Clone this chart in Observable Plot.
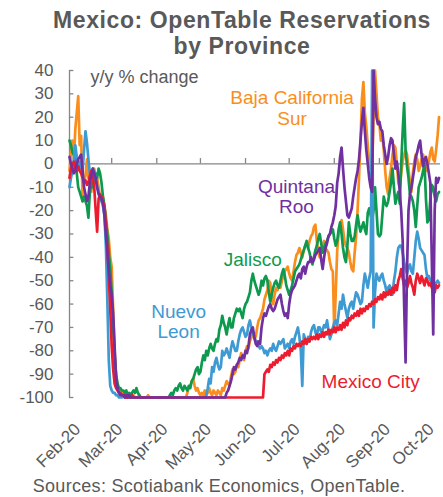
<!DOCTYPE html>
<html>
<head>
<meta charset="utf-8">
<script src="https://cdn.jsdelivr.net/npm/d3@7"></script>
<script src="https://cdn.jsdelivr.net/npm/@observablehq/plot@0.6"></script>
<style>
  html, body { margin: 0; padding: 0; background: #fff; }
  body { width: 443px; height: 497px; overflow: hidden; font-family: "Liberation Sans", Arial, sans-serif; }
  #title { height: 60px; box-sizing: border-box; padding-top: 7px; padding-left: 41px; text-align: center;
           font-weight: bold; font-size: 23px; line-height: 26px; color: #595959; letter-spacing: 0.6px; }
  #chart { height: 415px; }
  #caption { height: 22px; font-size: 18px; line-height: 22px; color: #595959; text-align: center; padding-right: 5px; letter-spacing: 0.3px; }
</style>
</head>
<body>
<div id="title">Mexico: OpenTable Reservations<br>by Province</div>
<div id="chart"></div>
<div id="caption">Sources: Scotiabank Economics, OpenTable.</div>
<script>
// Daily y/y % change, first value = 18 Feb 2020
const firstDay = "2020-02-18";
const lastAxisDay = "2020-10-30";

const bajaCaliforniaSur = [
  -3,5,10,2,15,22,29,8,12,-16,
  -8,-5,2,-6,-3,-12,-5,-2,-8,-6,
  -10,-14,-16,-14,-18,-22,-28,-32,-40,-44,
  -62,-80,-90,-95,-97,-97,-98,-98,-99,-98,
  -99,-100,-99,-100,-99,-100,-100,-100,-99,-100,
  -100,-100,-100,-100,-99,-100,-100,-100,-100,-100,
  -100,-100,-100,-100,-100,-100,-100,-100,-100,-100,
  -100,-100,-100,-100,-100,-100,-100,-100,-100,-100,
  -100,-98,-96,-95,-93,-92,-95,-97,-96,-98,
  -99,-98,-99,-97,-99,-98,-96,-98,-99,-97,
  -98,-99,-97,-98,-99,-96,-97,-95,-93,-94,
  -95,-91,-88,-90,-89,-86,-87,-84,-81,-82,
  -84,-80,-78,-79,-76,-74,-72,-75,-74,-70,
  -67,-66,-64,-62,-58,-56,-54,-50,-51,-58,
  -60,-56,-53,-54,-52,-53,-50,-48,-46,-45,
  -44,-47,-49,-50,-46,-42,-39,-38,-36,-38,
  -40,-37,-35,-34,-36,-33,-31,-30,-27,-26,
  -33,-38,-40,-37,-35,-33,-36,-37,-38,-42,
  -45,-46,-72,-55,-37,-30,-29,-24,-28,-33,
  -35,-36,-38,-42,-45,-46,-38,-31,-20,-6,
  10,28,35,22,16,8,1,-2,-3,20,
  40,30,20,17,10,12,6,-3,-10,-13,
  -6,-2,4,8,7,0,-8,-10,-4,1,
  4,6,4,-2,-8,-12,-4,1,4,2,
  -3,-1,2,4,1,-3,-2,1,5,7,
  2,1,6,12,20
];

const jalisco = [
  10,8,5,4,2,-4,-10,-12,-14,-16,
  -14,-16,-18,-23,-12,-8,-10,-5,-4,-6,
  -2,-4,-8,-14,-18,-24,-30,-38,-45,-55,
  -70,-82,-90,-94,-96,-96,-97,-97,-98,-97,
  -99,-98,-99,-98,-97,-98,-96,-98,-99,-100,
  -100,-100,-100,-100,-100,-100,-100,-100,-100,-100,
  -100,-100,-100,-100,-100,-100,-100,-100,-100,-99,
  -98,-99,-97,-96,-97,-95,-94,-96,-97,-95,
  -96,-97,-95,-96,-93,-92,-90,-88,-87,-90,
  -89,-85,-82,-84,-80,-82,-79,-77,-79,-80,
  -77,-75,-76,-71,-69,-65,-68,-70,-73,-69,
  -66,-70,-70,-66,-64,-62,-63,-62,-64,-66,
  -62,-60,-59,-57,-55,-50,-47,-50,-52,-54,
  -56,-54,-50,-52,-49,-48,-50,-55,-59,-56,
  -53,-51,-50,-52,-53,-50,-47,-45,-48,-52,
  -54,-56,-54,-52,-49,-46,-45,-44,-43,-41,
  -39,-37,-35,-33,-36,-38,-41,-43,-40,-37,
  -35,-32,-30,-34,-38,-36,-34,-33,-31,-30,
  -29,-28,-32,-35,-33,-28,-25,-30,-36,-40,
  -42,-35,-25,-30,-33,-33,-31,-26,-22,-26,
  -29,-27,-25,-28,-30,-21,-19,-22,-24,-20,
  -10,-20,-30,-31,-30,-22,-14,-17,-18,-16,
  -12,-8,-2,-10,-17,-14,-12,-17,0,14,
  26,6,-1,-6,-13,-14,-16,-20,-27,-18,
  -10,-8,-6,-3,0,-15,-25,-24,-15,-9,
  -10,-14,-16,-13,-12
];

const nuevoLeon = [
  -10,-6,-3,2,8,3,-1,1,-2,-3,
  6,14,9,2,-4,-5,-2,-3,-6,-10,
  -12,-14,-16,-18,-22,-35,-58,-84,-95,-97,
  -98,-98,-99,-99,-100,-100,-100,-99,-100,-100,
  -100,-100,-100,-100,-100,-100,-100,-100,-100,-100,
  -100,-100,-100,-100,-100,-100,-100,-100,-100,-100,
  -100,-100,-100,-100,-100,-100,-100,-100,-100,-100,
  -100,-100,-100,-100,-100,-100,-100,-100,-100,-100,
  -100,-100,-100,-100,-100,-100,-100,-100,-100,-100,
  -100,-100,-100,-100,-99,-96,-92,-94,-87,-89,
  -85,-83,-86,-88,-87,-80,-82,-81,-79,-81,
  -83,-79,-76,-78,-80,-80,-76,-73,-71,-70,
  -72,-74,-73,-69,-67,-70,-72,-74,-76,-76,
  -78,-79,-78,-79,-81,-80,-82,-80,-79,-80,
  -77,-79,-80,-78,-76,-77,-76,-75,-79,-78,
  -77,-79,-76,-75,-77,-74,-72,-70,-74,-80,
  -95,-73,-75,-77,-74,-76,-72,-70,-69,-72,
  -74,-70,-70,-72,-71,-69,-70,-67,-71,-75,
  -73,-70,-68,-67,-69,-64,-59,-62,-56,-60,
  -63,-66,-62,-60,-59,-62,-58,-55,-56,-58,
  -60,-59,-52,-47,-50,-53,-49,-46,40,-70,
  -55,-47,-49,-50,-48,-47,-50,-52,-55,-53,
  -52,-54,-56,-50,-46,-40,-36,-35,-35,-38,
  -42,-45,-47,-44,-43,-46,-47,-40,-33,-29,
  -32,-36,-37,-38,-39,-45,-49,-48,-50,-50,
  -52,-53,-51,-50,-51
];

const mexicoCity = [
  -6,-2,0,1,-2,-3,-1,-3,-4,-6,
  -8,-7,-9,-8,-5,-3,-6,-10,-20,-29,
  -15,-13,-14,-16,-18,-26,-35,-48,-62,-78,
  -88,-94,-96,-97,-98,-98,-99,-99,-99,-100,
  -99,-100,-100,-99,-100,-100,-100,-100,-100,-100,
  -100,-100,-100,-100,-100,-100,-100,-100,-100,-100,
  -100,-100,-100,-100,-100,-100,-100,-100,-100,-100,
  -100,-100,-100,-100,-100,-100,-100,-100,-100,-100,
  -100,-100,-100,-100,-100,-100,-100,-100,-100,-100,
  -100,-100,-100,-100,-100,-100,-100,-100,-100,-100,
  -100,-100,-100,-100,-100,-100,-100,-100,-100,-100,
  -100,-100,-100,-100,-100,-100,-100,-100,-100,-100,
  -100,-100,-100,-100,-100,-100,-100,-100,-100,-100,
  -100,-100,-100,-100,-90,-89,-88,-89,-86,-87,
  -85,-86,-84,-85,-83,-84,-82,-83,-81,-82,
  -80,-82,-79,-80,-78,-79,-77,-78,-77,-78,
  -76,-77,-75,-77,-75,-76,-74,-75,-74,-75,
  -73,-75,-73,-74,-72,-74,-72,-73,-71,-73,
  -71,-72,-70,-72,-70,-71,-69,-71,-68,-70,
  -67,-69,-66,-67,-65,-66,-64,-65,-63,-65,
  -62,-64,-62,-63,-61,-62,-60,-61,-59,-60,
  -58,-59,-57,-58,-56,-58,-55,-57,-55,-56,
  -54,-56,-53,-55,-52,-54,-50,-48,-45,-49,
  -52,-50,-53,-51,-48,-51,-53,-56,-50,-47,
  -49,-51,-48,-50,-52,-49,-50,-52,-51,-53,
  -54,-55,-52,-53,-52
];

const quintanaRoo = [
  3,0,-2,-4,-3,0,2,3,4,-3,
  -10,-13,-16,-14,-8,-5,-2,-4,-6,-10,
  -13,-14,-15,-17,-22,-30,-38,-45,-52,-56,
  -64,-78,-92,-96,-98,-99,-99,-99,-100,-99,
  -100,-99,-100,-100,-100,-100,-100,-100,-100,-100,
  -100,-100,-100,-100,-100,-100,-100,-100,-100,-100,
  -100,-100,-100,-100,-100,-100,-100,-100,-100,-100,
  -100,-100,-100,-100,-100,-100,-100,-100,-100,-100,
  -100,-100,-100,-100,-100,-100,-100,-100,-100,-100,
  -100,-100,-100,-100,-100,-100,-100,-100,-100,-100,
  -100,-100,-100,-100,-100,-100,-100,-100,-98,-97,
  -95,-93,-90,-87,-88,-86,-85,-83,-84,-82,
  -83,-80,-81,-78,-73,-71,-70,-74,-77,-78,
  -76,-77,-70,-66,-64,-65,-63,-61,-60,-62,
  -63,-62,-60,-58,-57,-56,-60,-63,-65,-64,
  -66,-60,-56,-54,-53,-52,-50,-48,-47,-49,
  -45,-44,-47,-44,-42,-42,-40,-42,-41,-39,
  -38,-37,-36,-41,-45,-40,-36,-34,-31,-30,
  -27,-25,-22,-18,-8,-4,3,7,-2,-10,
  -16,-22,-23,-21,-19,-14,-10,-6,-3,2,
  10,18,24,14,6,0,-6,-10,-12,40,
  28,20,17,18,15,14,8,4,0,3,
  8,11,10,4,-2,1,-4,-12,-20,-33,
  -60,-85,-45,-20,-13,-10,-6,-2,3,5,
  8,10,4,-1,2,3,0,-4,-8,-40,
  -73,-20,-6,-8,-6
];

const seriesNames = ["Baja California Sur", "Jalisco", "Nuevo Leon", "Mexico City", "Quintana Roo"];
const seriesValues = [bajaCaliforniaSur, jalisco, nuevoLeon, mexicoCity, quintanaRoo];
const seriesColors = ["#F98E1D", "#0E9A4E", "#3E9AD3", "#EC1C2E", "#7030A0"];

const yTicks = [40, 30, 20, 10, 0, -10, -20, -30, -40, -50, -60, -70, -80, -90, -100];
const xTickDates = ["2020-02-18","2020-03-18","2020-04-18","2020-05-18","2020-06-18","2020-07-18","2020-08-18","2020-09-18","2020-10-18"];

const labelTexts = ["Baja California\nSur", "Jalisco", "Nuevo\nLeon", "Mexico City", "Quintana\nRoo"];

// ---- build table ----
const start = new Date(firstDay);
const rows = [];
seriesNames.forEach((name, s) => {
  seriesValues[s].forEach((v, i) => rows.push({series: name, date: d3.utcDay.offset(start, i), value: v}));
});
const tickDates = xTickDates.map(d => new Date(d));
const axisColor = "#868686";
const textColor = "#595959";

const chart = Plot.plot({
  width: 443,
  height: 415,
  marginTop: 10,
  marginLeft: 69,
  marginRight: 3,
  marginBottom: 78,
  style: {fontFamily: "'Liberation Sans', Arial, sans-serif", background: "white", color: textColor},
  x: {type: "utc", domain: [start, new Date(lastAxisDay)]},
  y: {domain: [-100, 40]},
  color: {domain: seriesNames, range: seriesColors},
  marks: [
    Plot.axisY({ticks: yTicks, tickSize: 0, tickPadding: 16, tickFormat: d => String(d), fontSize: 17, label: null, fill: textColor}),
    Plot.axisX({ticks: tickDates, tickFormat: d3.utcFormat("%b-%y"), tickRotate: -45, tickSize: 0, tickPadding: 19, dx: 8, dy: 10, fontSize: 17, label: null, fill: textColor}),
    Plot.ruleX([start], {y1: -100, y2: 40, stroke: axisColor, strokeWidth: 1.3}),
    Plot.ruleY(yTicks, {x1: start, x2: d3.utcDay.offset(start, 3), stroke: axisColor, strokeWidth: 1.3}),
    Plot.ruleY([0], {stroke: axisColor, strokeWidth: 1.3}),
    Plot.ruleX(tickDates.slice(1), {y1: 0, y2: 2.3, stroke: axisColor, strokeWidth: 1.3}),
    Plot.line(rows, {x: "date", y: "value", z: "series", stroke: "series", strokeWidth: 2.7}),
    Plot.text(["y/y % change"], {frameAnchor: "top-left", dx: 21, dy: 12, textAnchor: "start", lineAnchor: "bottom", fontSize: 18, fill: textColor}),
    Plot.text([labelTexts[0]], {x: () => new Date("2020-07-20"), y: 16.6, textAnchor: "middle", lineAnchor: "bottom", lineHeight: 1.1, fontSize: 19, fill: seriesColors[0]}),
    Plot.text([labelTexts[1]], {x: () => new Date("2020-06-23"), y: -43.9, textAnchor: "middle", lineAnchor: "bottom", fontSize: 19, fill: seriesColors[1]}),
    Plot.text([labelTexts[2]], {x: () => new Date("2020-05-03"), y: -74.7, textAnchor: "middle", lineAnchor: "bottom", lineHeight: 1.05, fontSize: 19, fill: seriesColors[2]}),
    Plot.text([labelTexts[3]], {x: () => new Date("2020-09-12"), y: -96.1, textAnchor: "middle", lineAnchor: "bottom", fontSize: 19, fill: seriesColors[3]}),
    Plot.text([labelTexts[4]], {x: () => new Date("2020-07-23"), y: -21.1, textAnchor: "middle", lineAnchor: "bottom", lineHeight: 1.05, fontSize: 19, fill: seriesColors[4]})
  ]
});
document.getElementById("chart").appendChild(chart);
</script>
</body>
</html>
